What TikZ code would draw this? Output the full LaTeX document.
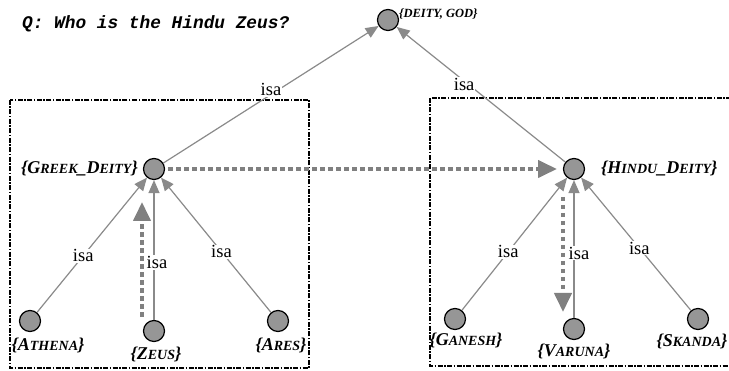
\documentclass[tikz,border=0pt]{standalone}
\usepackage{fontspec}
\setmainfont{Liberation Serif}
\newfontfamily\qfont{Liberation Mono}
\usetikzlibrary{arrows.meta}
\definecolor{cgray}{HTML}{969696}
\definecolor{egray}{HTML}{8A8A8A}
\definecolor{igray}{HTML}{808080}
\newcommand\smc[1]{{\fontsize{14}{14}\selectfont #1}}
\begin{document}
\begin{tikzpicture}[x=1pt,y=-1pt,
  concept/.style={circle, draw=black, fill=cgray, line width=1.2pt, minimum size=21pt, inner sep=0pt},
  isaedge/.style={draw=egray, line width=1.2pt, -{Triangle[length=13pt,width=11pt]}},
  isalab/.style={fill=white, inner sep=1pt, font=\fontsize{18.5}{18.5}\selectfont},
  infer/.style={draw=igray, line width=4pt, dash pattern=on 4.5pt off 3.5pt, -{Triangle[length=19pt,width=17pt]}},
  framebox/.style={draw=black, line width=1.4pt, dash pattern=on 5pt off 1.5pt on 1.5pt off 1.5pt},
  clab/.style={inner sep=0pt, font=\fontsize{18}{18}\selectfont\bfseries\itshape},
  question/.style={inner sep=0pt, anchor=west, font=\qfont\fontsize{17.8}{17.8}\selectfont\bfseries\itshape}]
\useasboundingbox (0,0) rectangle (729,371);

% frames
\draw[framebox] (10,100) rectangle (309,368);
\draw[framebox] (430,98) rectangle (740,366);

% question
\node[question] (q) at (22,24) {Q: Who is the Hindu Zeus?};

% concept nodes
\node[concept] (deity) at (388,20) {};
\node[concept] (greek) at (154,169) {};
\node[concept] (hindu) at (574,169) {};
\node[concept] (athena) at (30,321) {};
\node[concept] (zeus) at (154,331) {};
\node[concept] (ares) at (278,321) {};
\node[concept] (ganesh) at (455,319) {};
\node[concept] (varuna) at (574,329) {};
\node[concept] (skanda) at (698,319) {};

% labels
\node[clab, anchor=west, font=\fontsize{12.5}{12.5}\selectfont\bfseries\itshape] (ldeity) at (399,14) {\{DEITY, GOD\}};
\node[clab, anchor=east] (lgreek) at (138,169) {\{G\smc{REEK}\_D\smc{EITY}\}};
\node[clab, anchor=west] (lhindu) at (601,169) {\{H\smc{INDU}\_D\smc{EITY}\}};
\node[clab] (lathena) at (48,345) {\{A\smc{THENA}\}};
\node[clab] (lzeus) at (156,354) {\{Z\smc{EUS}\}};
\node[clab] (lares) at (281,345) {\{A\smc{RES}\}};
\node[clab] (lganesh) at (466,340) {\{G\smc{ANESH}\}};
\node[clab] (lvaruna) at (574,351) {\{V\smc{ARUNA}\}};
\node[clab] (lskanda) at (692,341) {\{S\smc{KANDA}\}};

% isa edges
\draw[isaedge] (greek) -- node[isalab, pos=0.5, yshift=5pt] {isa} (deity);
\draw[isaedge] (hindu) -- node[isalab, pos=0.6, yshift=-3pt] {isa} (deity);
\draw[isaedge] (athena) -- node[isalab, pos=0.42] {isa} (greek);
\draw[isaedge] (zeus) -- node[isalab, pos=0.41, xshift=3pt] {isa} (greek);
\draw[isaedge] (ares) -- node[isalab, pos=0.45] {isa} (greek);
\draw[isaedge] (ganesh) -- node[isalab, pos=0.44] {isa} (hindu);
\draw[isaedge] (varuna) -- node[isalab, pos=0.47, xshift=5pt] {isa} (hindu);
\draw[isaedge] (skanda) -- node[isalab, pos=0.47] {isa} (hindu);

% inference arrows
\coordinate (z1) at (142,317);
\coordinate (z2) at (142,202);
\coordinate (h1) at (168,169);
\coordinate (h2) at (557,169);
\coordinate (v1) at (563,197);
\coordinate (v2) at (563,312);
\draw[infer] (z1) -- (z2);
\draw[infer] (h1) -- (h2);
\draw[infer] (v1) -- (v2);
\end{tikzpicture}
\end{document}
